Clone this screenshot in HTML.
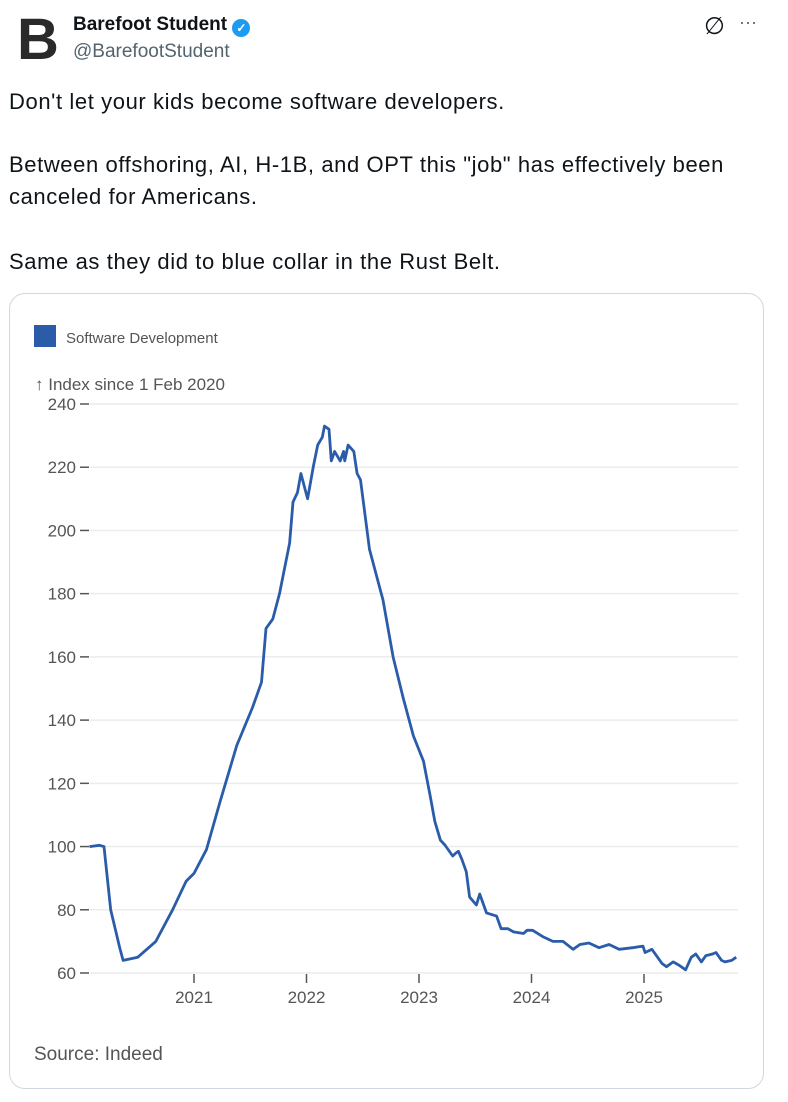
<!DOCTYPE html>
<html><head><meta charset="utf-8"><style>
html,body{margin:0;padding:0;background:#fff;width:788px;height:1102px;overflow:hidden;font-family:"Liberation Sans",sans-serif;}
.a{position:absolute;white-space:nowrap;}
.t{font-size:22px;letter-spacing:0.6px;color:#0f1419;}
</style></head><body>
<div class="a" style="left:17px;top:10px;font-size:58px;font-weight:bold;color:#2a2a2a;line-height:60px;">B</div>
<div class="a" style="left:73px;top:14px;font-size:19px;font-weight:bold;color:#0f1419;">Barefoot Student <span style="display:inline-block;width:18px;height:18px;border-radius:50%;background:#1d9bf0;color:#fff;font-size:12px;text-align:center;line-height:18px;vertical-align:-2px;">✓</span></div>
<div class="a" style="left:73px;top:41px;font-size:19px;color:#536471;">@BarefootStudent</div>
<div class="a" style="left:704px;top:12px;font-size:24px;color:#0f1419;">∅</div>
<div class="a" style="left:739px;top:12px;font-size:18px;color:#536471;">···</div>
<div class="a t" style="left:9px;top:89px;">Don't let your kids become software developers.</div>
<div class="a t" style="left:9px;top:152px;">Between offshoring, AI, H-1B, and OPT this "job" has effectively been</div>
<div class="a t" style="left:9px;top:184px;">canceled for Americans.</div>
<div class="a t" style="left:9px;top:249px;">Same as they did to blue collar in the Rust Belt.</div>
<div class="a" style="left:9px;top:293px;width:753px;height:794px;border:1px solid #cfd9de;border-radius:16px;"></div>
<svg class="a" style="left:0;top:0" width="788" height="1102" id="chart">
<rect x="34" y="325" width="22" height="22" fill="#2a5caa"/>
<text x="66" y="343" font-size="15" fill="#555" font-family="Liberation Sans,sans-serif">Software Development</text>
<text x="35" y="390" font-size="17" fill="#555" font-family="Liberation Sans,sans-serif">↑ Index since 1 Feb 2020</text>
<text x="34" y="1060" font-size="19" fill="#555" font-family="Liberation Sans,sans-serif">Source: Indeed</text>
<g id="grid"></g><g id="axes"></g><path id="line" fill="none" stroke="#2a5caa" stroke-width="2.8" stroke-linejoin="round"/>
</svg>
<script>
const yTicks=[60,80,100,120,140,160,180,200,220,240];
const xTicks=[2021,2022,2023,2024,2025];
const dates=[2020.07,2020.16,2020.2,2020.26,2020.34,2020.37,2020.5,2020.66,2020.81,2020.93,2021.0,2021.11,2021.23,2021.38,2021.52,2021.6,2021.64,2021.7,2021.76,2021.85,2021.88,2021.92,2021.95,2022.01,2022.06,2022.1,2022.14,2022.16,2022.2,2022.22,2022.25,2022.3,2022.33,2022.34,2022.37,2022.42,2022.45,2022.48,2022.56,2022.68,2022.77,2022.86,2022.95,2023.04,2023.1,2023.14,2023.19,2023.23,2023.3,2023.33,2023.35,2023.38,2023.42,2023.45,2023.51,2023.54,2023.6,2023.69,2023.73,2023.79,2023.84,2023.93,2023.96,2024.01,2024.1,2024.19,2024.28,2024.37,2024.43,2024.51,2024.6,2024.69,2024.78,2024.9,2024.99,2025.01,2025.07,2025.16,2025.2,2025.26,2025.31,2025.37,2025.42,2025.46,2025.51,2025.55,2025.61,2025.64,2025.69,2025.72,2025.78,2025.82];
const values=[100,100.4,100,80,68,64,65,70,80,89,91.5,99,114,132,144,152,169,172,180,196,209,212,218,210,220,227,229.5,233,232,222,225,222,225,222,227,225,218,216,194,178,160,147,135,127,116,108,102,100.5,97,98,98.5,96,92,84,81.5,85,79,78,74,74,73,72.5,73.5,73.5,71.5,70,70,67.5,69,69.5,68,69,67.5,68,68.5,66.5,67.5,63,62,63.5,62.5,61,65,66,63.5,65.5,66,66.5,64,63.5,64,65];
const NS='http://www.w3.org/2000/svg';
const X=v=>194+(v-2021)*112.5;
const Y=v=>973-(v-60)*569/180;
const grid=document.getElementById('grid'),axes=document.getElementById('axes');
function mk(tag,at,parent){const e=document.createElementNS(NS,tag);for(const k in at)e.setAttribute(k,at[k]);parent.appendChild(e);return e;}
yTicks.forEach(v=>{
 if(v>60){const g=mk('line',{x1:90,x2:738,y1:Y(v),y2:Y(v),stroke:'#ececec','stroke-width':1.5},grid);
 
 }
 const tk=mk('line',{x1:80,x2:89,y1:Y(v),y2:Y(v),stroke:'#555','stroke-width':1.5},axes);
 
 
 const t=mk('text',{x:76,y:Y(v)+6,'text-anchor':'end','font-size':17,fill:'#555','font-family':'Liberation Sans,sans-serif'},axes);
 t.textContent=v;
 
 
});
const base=mk('line',{x1:90,x2:738,y1:Y(60),y2:Y(60),stroke:'#ececec','stroke-width':1.5},grid);


xTicks.forEach(v=>{
 const tk=mk('line',{x1:X(v),x2:X(v),y1:974,y2:983,stroke:'#555','stroke-width':1.5},axes);
 
 
 const t=mk('text',{x:X(v),y:1003,'text-anchor':'middle','font-size':17,fill:'#555','font-family':'Liberation Sans,sans-serif'},axes);
 t.textContent=v;
 
 
});
document.getElementById('line').setAttribute('d',dates.map((d,i)=>(i?'L':'M')+X(d).toFixed(1)+' '+Y(values[i]).toFixed(1)).join(' '));
</script>
</body></html>
